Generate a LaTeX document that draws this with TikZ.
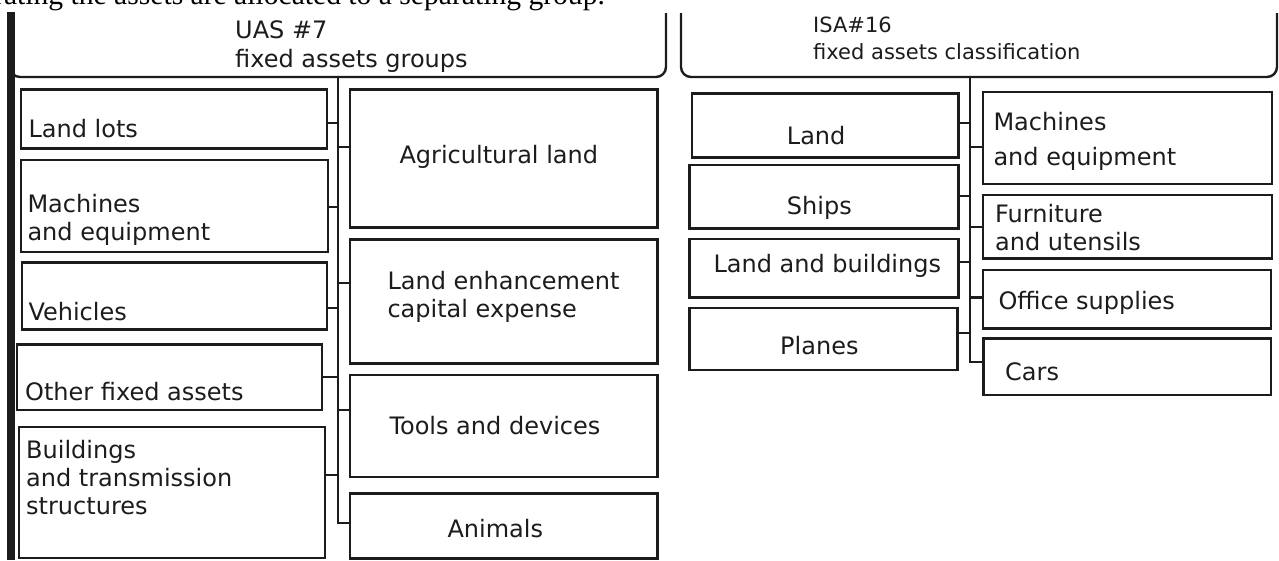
\documentclass[tikz,border=0pt]{standalone}
\usepackage{fontspec}
\newfontfamily\dejavu{DejaVu Sans}
\newfontfamily\tnr{Liberation Serif}
\usetikzlibrary{fit}
\definecolor{ink}{HTML}{1C1C1C}
\begin{document}
\begin{tikzpicture}[x=1pt,y=-1pt,
  box/.style={draw=ink, line width=2.4pt, inner sep=0pt, rectangle},
  wire/.style={draw=ink, line width=2.2pt},
  lbl/.style={anchor=base west, inner sep=0pt, text=ink, font=\dejavu\fontsize{24}{28}\selectfont},
  hlbl/.style={anchor=base west, inner sep=0pt, text=ink, font=\dejavu\fontsize{21}{26}\selectfont},
  hdr/.style={draw=ink, line width=2.4pt, rounded corners=10pt}]
\useasboundingbox (0,0) rectangle (1279,560);
% clipped running text at the very top
\begin{scope}
\clip (0,0) rectangle (1279,10.5);
\node[anchor=base west, inner sep=0pt, font=\tnr\fontsize{29.6}{34}\selectfont] (toptext) at (-6,4) {rating the assets are allocated to a separating group.};
\end{scope}
% thick bar on the left
\fill[ink] (7,12) rectangle (15,560);
% headers
\draw[hdr] (10,13) -- (10,77) -- (666,77) -- (666,13);
\draw[hdr] (681,13) -- (681,77) -- (1277,77) -- (1277,13);
\node[lbl] (uas) at (235,38) {UAS \#7};
\node[lbl] (uas2) at (235,67) {fixed assets groups};
\node[hlbl] (isa) at (813,32) {ISA\#16};
\node[hlbl] (isa2) at (813,59) {fixed assets classification};
% left column boxes
\node[box, fit={(20.7,89.3)(326.7,148.3)}] (landlots) {};
\node[box, fit={(20.7,160)(327.7,251.7)}] (machL) {};
\node[box, fit={(21.7,262.3)(326.7,329.3)}] (vehicles) {};
\node[box, fit={(16.7,344.3)(321.7,410)}] (other) {};
\node[box, fit={(19,426.7)(325,557.7)}] (buildings) {};
% middle column boxes
\node[box, fit={(350,89.3)(657.3,227.3)}] (agri) {};
\node[box, fit={(350,239.3)(657.3,363.3)}] (landenh) {};
\node[box, fit={(350,375)(657.3,476.7)}] (tools) {};
\node[box, fit={(350,493.3)(657.3,558.3)}] (animals) {};
% right-left column boxes
\node[box, fit={(691.7,93.3)(958.3,157.3)}] (land) {};
\node[box, fit={(689.3,165)(958.3,228.3)}] (ships) {};
\node[box, fit={(689.3,239)(958.3,297.3)}] (landbld) {};
\node[box, fit={(689.3,307.7)(957.3,370)}] (planes) {};
% right-right column boxes
\node[box, fit={(982.7,91.7)(1271.7,184)}] (machR) {};
\node[box, fit={(982.7,195)(1271.7,258.3)}] (furn) {};
\node[box, fit={(982.7,270)(1270.7,328.3)}] (office) {};
\node[box, fit={(983.3,338.3)(1270.7,395)}] (cars) {};
% texts
\node[lbl] (t1) at (28.3,137.3) {Land lots};
\node[lbl] (t2a) at (27.3,212.7) {Machines};
\node[lbl] (t2b) at (27.3,240) {and equipment};
\node[lbl] (t3) at (28.3,320.7) {Vehicles};
\node[lbl] (t4) at (25,400.7) {Other fixed assets};
\node[lbl] (t5a) at (26,458.3) {Buildings};
\node[lbl] (t5b) at (26,486.7) {and transmission};
\node[lbl] (t5c) at (26,514.3) {structures};
\node[lbl] (t6) at (399.3,163.3) {Agricultural land};
\node[lbl] (t7a) at (387.3,289.3) {Land enhancement};
\node[lbl] (t7b) at (387.3,317.3) {capital expense};
\node[lbl] (t8) at (389.3,434) {Tools and devices};
\node[lbl] (t9) at (447.3,537.3) {Animals};
\node[lbl] (t10) at (786.7,144) {Land};
\node[lbl] (t11) at (786.7,214) {Ships};
\node[lbl] (t12) at (713.3,272.7) {Land and buildings};
\node[lbl] (t13) at (780,354) {Planes};
\node[lbl] (t14a) at (993.3,130) {Machines};
\node[lbl] (t14b) at (993.3,165) {and equipment};
\node[lbl] (t15a) at (995,222.7) {Furniture};
\node[lbl] (t15b) at (995,250.7) {and utensils};
\node[lbl] (t16) at (998.3,309.3) {Office supplies};
\node[lbl] (t17) at (1005,380) {Cars};
% left trunk
\coordinate (LT) at (338,77);
\coordinate (LB) at (338,522.7);
\draw[wire] (LT) -- (LB) -- (LB -| animals.west);
\coordinate (l1) at (338,123.3);
\coordinate (l2) at (338,206.7);
\coordinate (l3) at (338,308.3);
\coordinate (l4) at (338,376.7);
\coordinate (l5) at (338,475);
\coordinate (r1) at (338,146.7);
\coordinate (r2) at (338,283.3);
\coordinate (r3) at (338,410);
\draw[wire] (l1) -- (l1 -| landlots.east);
\draw[wire] (l2) -- (l2 -| machL.east);
\draw[wire] (l3) -- (l3 -| vehicles.east);
\draw[wire] (l4) -- (l4 -| other.east);
\draw[wire] (l5) -- (l5 -| buildings.east);
\draw[wire] (r1) -- (r1 -| agri.west);
\draw[wire] (r2) -- (r2 -| landenh.west);
\draw[wire] (r3) -- (r3 -| tools.west);
% right trunk
\coordinate (RT) at (970,77);
\coordinate (RB) at (970,361.7);
\draw[wire] (RT) -- (RB) -- (RB -| cars.west);
\coordinate (m1) at (970,123.3);
\coordinate (m2) at (970,196);
\coordinate (m3) at (970,261.7);
\coordinate (m4) at (970,332.7);
\coordinate (n1) at (970,146.7);
\coordinate (n2) at (970,226.7);
\coordinate (n3) at (970,297.5);
\draw[wire] (m1) -- (m1 -| land.east);
\draw[wire] (m2) -- (m2 -| ships.east);
\draw[wire] (m3) -- (m3 -| landbld.east);
\draw[wire] (m4) -- (m4 -| planes.east);
\draw[wire] (n1) -- (n1 -| machR.west);
\draw[wire] (n2) -- (n2 -| furn.west);
\draw[wire] (n3) -- (n3 -| office.west);
\end{tikzpicture}
\end{document}
